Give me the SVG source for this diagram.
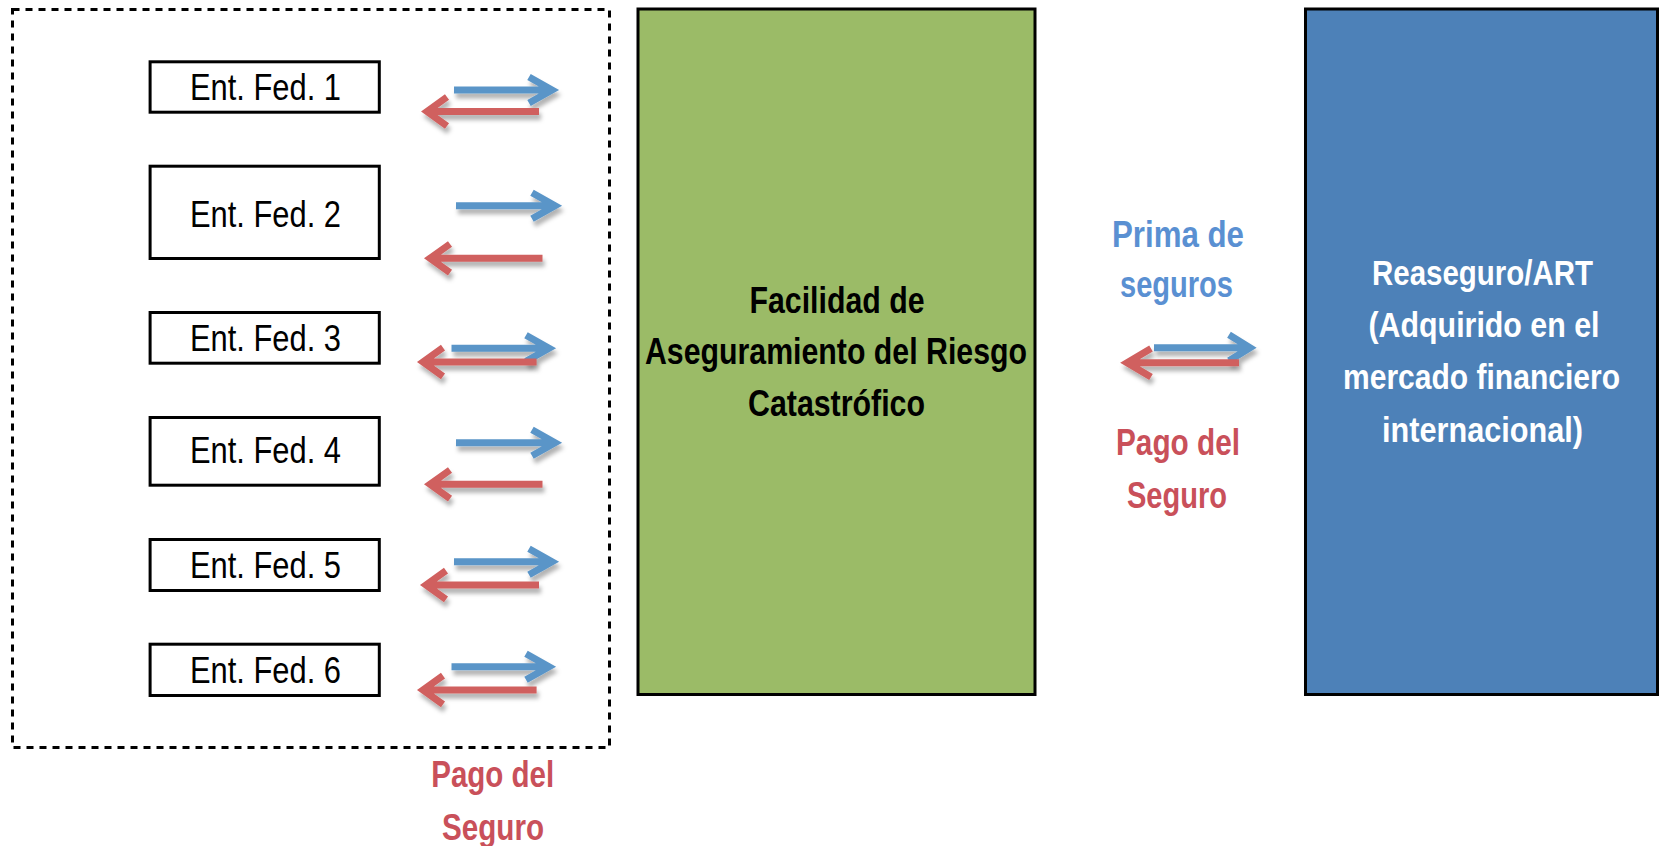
<svg xmlns="http://www.w3.org/2000/svg" width="1661" height="846" viewBox="0 0 1661 846">
<defs>
<filter id="sh" x="-20%" y="-50%" width="140%" height="250%">
<feDropShadow dx="2" dy="5" stdDeviation="2" flood-color="#000" flood-opacity="0.3"/>
</filter>
<style>
.ent rect{fill:#fff;stroke:#000;stroke-width:3}
.ent text{font-family:"Liberation Sans Narrow","Liberation Sans",Arial,sans-serif;font-size:37px;fill:#000;text-anchor:middle}
.big{font-family:"Liberation Sans Narrow","Liberation Sans",Arial,sans-serif;font-size:36px;font-weight:bold;text-anchor:middle}
.wt{fill:#fff;font-size:35px}
.blu{fill:none;stroke:#5A95C8;stroke-width:7;filter:url(#sh)}
.red{fill:none;stroke:#D0605F;stroke-width:7;filter:url(#sh)}
.lblR{fill:#C9505A}
.lblB{fill:#5A90D2}
</style>
</defs>
<rect width="1661" height="846" fill="#fff"/>
<g id="group-box">
<rect x="12.5" y="9.5" width="597" height="738" fill="none" stroke="#000" stroke-width="3" stroke-dasharray="7 6"/>
</g>
<g id="ent1" class="ent"><rect x="150.1" y="61.8" width="229.2" height="50.4"/><text x="265.5" y="100" textLength="151" lengthAdjust="spacingAndGlyphs">Ent. Fed. 1</text></g>
<g id="ent2" class="ent"><rect x="150.1" y="166.2" width="229.2" height="92.3"/><text x="265.5" y="226.7" textLength="151" lengthAdjust="spacingAndGlyphs">Ent. Fed. 2</text></g>
<g id="ent3" class="ent"><rect x="150.1" y="312.5" width="229.2" height="50.7"/><text x="265.5" y="351" textLength="151" lengthAdjust="spacingAndGlyphs">Ent. Fed. 3</text></g>
<g id="ent4" class="ent"><rect x="150.1" y="417.5" width="229.2" height="67.7"/><text x="265.5" y="463.3" textLength="151" lengthAdjust="spacingAndGlyphs">Ent. Fed. 4</text></g>
<g id="ent5" class="ent"><rect x="150.1" y="539.5" width="229.2" height="51"/><text x="265.5" y="577.7" textLength="151" lengthAdjust="spacingAndGlyphs">Ent. Fed. 5</text></g>
<g id="ent6" class="ent"><rect x="150.1" y="644.2" width="229.2" height="51.3"/><text x="265.5" y="683.3" textLength="151" lengthAdjust="spacingAndGlyphs">Ent. Fed. 6</text></g>
<g id="facilidad">
<rect x="638" y="9" width="397" height="685.5" fill="#9BBB67" stroke="#000" stroke-width="3"/>
<text class="big" fill="#000" x="837" y="313" textLength="175" lengthAdjust="spacingAndGlyphs">Facilidad de</text>
<text class="big" fill="#000" x="836" y="364" textLength="382" lengthAdjust="spacingAndGlyphs">Aseguramiento del Riesgo</text>
<text class="big" fill="#000" x="836.5" y="416" textLength="177" lengthAdjust="spacingAndGlyphs">Catastrófico</text>
</g>
<g id="reaseguro">
<rect x="1305.5" y="9" width="352" height="685.5" fill="#4D81B8" stroke="#000" stroke-width="3"/>
<text class="big wt" x="1482.5" y="285" textLength="221" lengthAdjust="spacingAndGlyphs">Reaseguro/ART</text>
<text class="big wt" x="1484" y="336.7" textLength="231" lengthAdjust="spacingAndGlyphs">(Adquirido en el</text>
<text class="big wt" x="1481.5" y="389" textLength="277" lengthAdjust="spacingAndGlyphs">mercado financiero</text>
<text class="big wt" x="1482.5" y="441.7" textLength="201" lengthAdjust="spacingAndGlyphs">internacional)</text>
</g>
<g id="connectors">
<path class="blu" d="M454 90H550M529 77L552 90L529 103"/>
<path class="red" d="M539 111.5H429M447 97L427 111.5L447 126"/>
<path class="blu" d="M456 205.7H553M532 192.7L555 205.7L532 218.7"/>
<path class="red" d="M542.5 258.3H432M450 244L430 258.3L450 272.6"/>
<path class="blu" d="M451.5 348.3H547M526 335.3L549 348.3L526 361.3"/>
<path class="red" d="M536.6 362H425M443 347.7L423 362L443 376.3"/>
<path class="blu" d="M456 442.7H553M532 429.7L555 442.7L532 455.7"/>
<path class="red" d="M542.5 484.3H432M450 470L430 484.3L450 498.6"/>
<path class="blu" d="M454 561.7H550M529 548.7L552 561.7L529 574.7"/>
<path class="red" d="M539 585H428M446 570.7L426 585L446 599.3"/>
<path class="blu" d="M451.5 666.7H547M526 653.7L549 666.7L526 679.7"/>
<path class="red" d="M536.6 690H425M443 675.7L423 690L443 704.3"/>
<path class="blu" d="M1154 347.7H1247M1229 334.7L1250 347.7L1229 360.7"/>
<path class="red" d="M1239 362.7H1129M1151 348.4L1127 362.7L1151 377"/>
</g>
<g id="labels">
<text class="big lblB" x="1178" y="246.7" textLength="132" lengthAdjust="spacingAndGlyphs">Prima de</text>
<text class="big lblB" x="1176.5" y="296.5" textLength="113" lengthAdjust="spacingAndGlyphs">seguros</text>
<text class="big lblR" x="1178" y="455" textLength="124" lengthAdjust="spacingAndGlyphs">Pago del</text>
<text class="big lblR" x="1177" y="507.5" textLength="100" lengthAdjust="spacingAndGlyphs">Seguro</text>
<text class="big lblR" x="492.7" y="787" textLength="123" lengthAdjust="spacingAndGlyphs">Pago del</text>
<text class="big lblR" x="493" y="840" textLength="102" lengthAdjust="spacingAndGlyphs">Seguro</text>
</g>
</svg>
